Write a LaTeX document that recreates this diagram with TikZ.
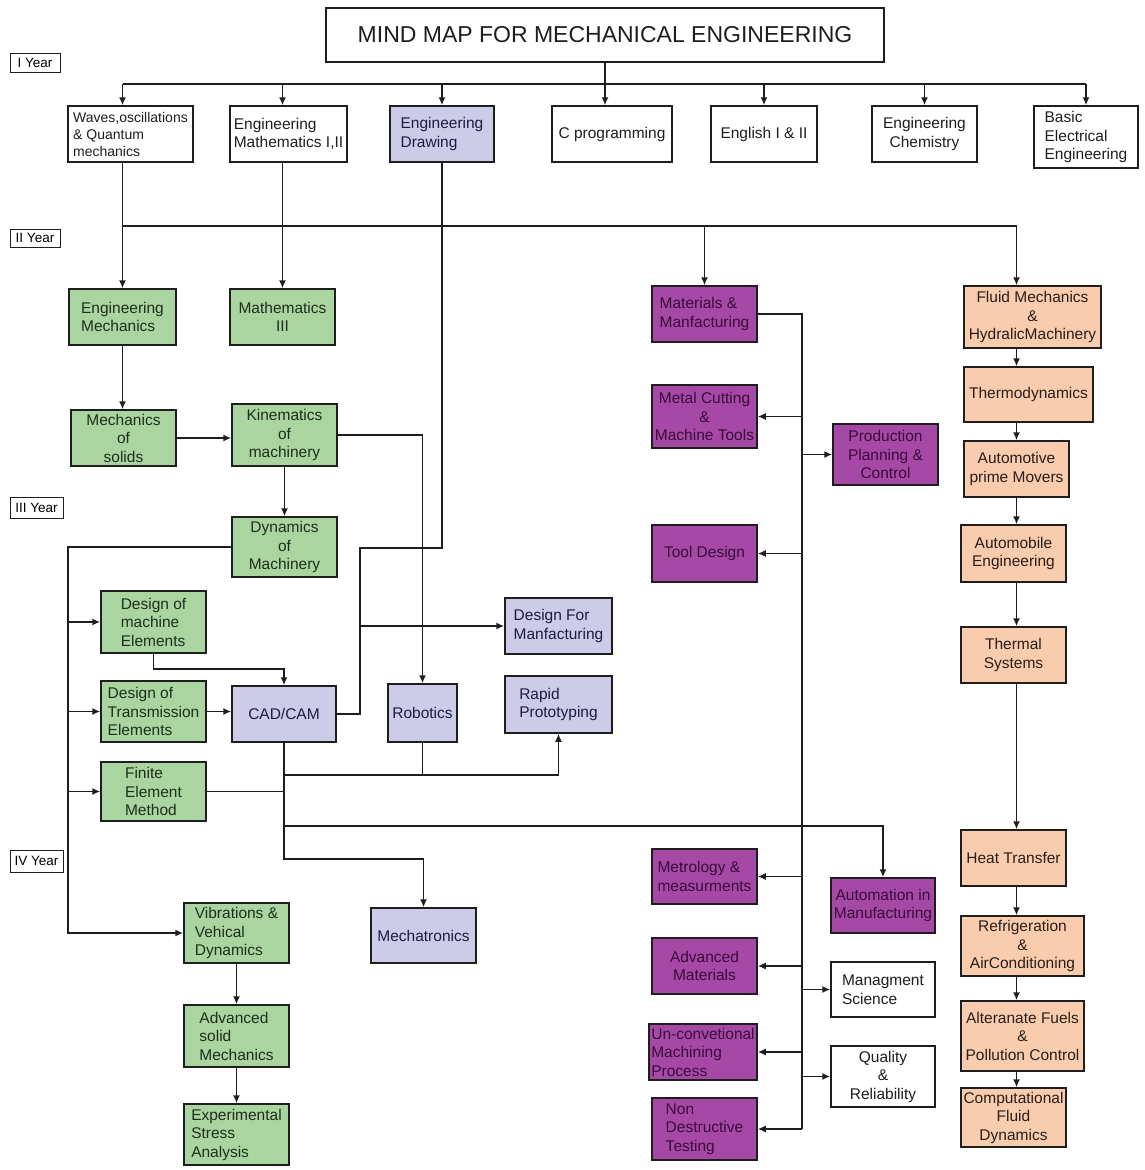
\documentclass[tikz,border=0pt]{standalone}
\usepackage{fontspec}
\setmainfont{Liberation Sans}
\usetikzlibrary{arrows.meta}
\definecolor{MMGreen}{HTML}{AAD4A0}
\definecolor{MMLav}{HTML}{CCCCE8}
\definecolor{MMPurple}{HTML}{A649A6}
\definecolor{MMPeach}{HTML}{F8CCAC}
\definecolor{MMInk}{HTML}{1E1E1E}
\definecolor{MMGreenInk}{HTML}{1C301C}
\definecolor{MMLavInk}{HTML}{1C1C44}
\definecolor{MMPurpleInk}{HTML}{3A0A3A}
\definecolor{MMPeachInk}{HTML}{2A1E1A}

\begin{document}
\begin{tikzpicture}[x=1pt,y=-1pt,
  box/.style={draw=MMInk,line width=1.5pt,inner sep=1pt,align=center,
    font=\fontsize{15.5}{18.5}\selectfont},
  wh/.style 2 args={minimum width=#1pt,minimum height=#2pt},
  plainbox/.style={box,fill=white,text=MMInk},
  greenbox/.style={box,fill=MMGreen,text=MMGreenInk},
  lavbox/.style={box,fill=MMLav,text=MMLavInk},
  purplebox/.style={box,fill=MMPurple,text=MMPurpleInk},
  peachbox/.style={box,fill=MMPeach,text=MMPeachInk},
  yearbox/.style={draw=MMInk,line width=1pt,inner sep=1pt,fill=white,
    font=\fontsize{13.5}{15}\selectfont},
  link/.style={draw=MMInk,line width=1.5pt},
  arr/.style={link,-{Latex[length=8pt,width=7pt]}}]
\useasboundingbox (0,0) rectangle (1144,1170);

% headings
\node[plainbox,wh={558}{54},font=\fontsize{23}{27}\selectfont] (title) at (605,35) {MIND MAP FOR MECHANICAL ENGINEERING};
\node[yearbox,wh={50}{19}] (yr1) at (35,62.5) {I Year};
\node[yearbox,wh={50}{18}] (yr2) at (35,238) {II Year};
\node[yearbox,wh={53}{21}] (yr3) at (36.5,507.5) {III Year};
\node[yearbox,wh={53}{22}] (yr4) at (36.5,861) {IV Year};

% first year
\node[plainbox,wh={125}{56},align=left,font=\fontsize{14}{17}\selectfont] (waves) at (130.5,134) {Waves,oscillations\\\& Quantum\\mechanics};
\node[plainbox,wh={117}{56},align=left] (engmath) at (288.5,134) {Engineering\\Mathematics I,II};
\node[lavbox,wh={104}{56},align=left] (drawing) at (442,134) {Engineering\\Drawing};
\node[plainbox,wh={120}{56}] (cprog) at (612,134) {C programming};
\node[plainbox,wh={106}{56}] (english) at (764,134) {English I \& II};
\node[plainbox,wh={105}{56}] (chem) at (924.5,134) {Engineering\\Chemistry};
\node[plainbox,wh={104}{62},align=left] (elec) at (1086,137) {Basic\\Electrical\\Engineering};

% second year
\node[greenbox,wh={107}{56},align=left] (mech) at (122.5,317) {Engineering\\Mechanics};
\node[greenbox,wh={105}{56}] (math3) at (282.5,317) {Mathematics\\III};
\node[greenbox,wh={105}{56}] (solids) at (123.5,438) {Mechanics\\of\\solids};
\node[greenbox,wh={105}{62}] (kin) at (284.5,435) {Kinematics\\of\\machinery};
\node[purplebox,wh={105}{56},align=left] (matman) at (704.5,314) {Materials \&\\Manfacturing};
\node[purplebox,wh={105}{63}] (metal) at (704.5,416.5) {Metal Cutting\\\&\\Machine Tools};
\node[purplebox,wh={105}{61}] (ppc) at (885.5,454.5) {Production\\Planning \&\\Control};
\node[purplebox,wh={105}{57}] (tool) at (704.5,553.5) {Tool Design};
\node[peachbox,wh={137}{62}] (fluid) at (1032.5,317) {Fluid Mechanics\\\&\\HydralicMachinery};
\node[peachbox,wh={129}{55}] (thermo) at (1028.5,394.5) {Thermodynamics};
\node[peachbox,wh={105}{56}] (prime) at (1016.5,469) {Automotive\\prime Movers};
\node[peachbox,wh={105}{57}] (autoeng) at (1013.5,553.5) {Automobile\\Engineering};

% third year
\node[greenbox,wh={105}{60}] (dyn) at (284.5,547) {Dynamics\\of\\Machinery};
\node[greenbox,wh={105}{62},align=left] (desm) at (153.5,622) {Design of\\machine\\Elements};
\node[greenbox,wh={105}{61},align=left] (dtrans) at (153.5,711.5) {Design of\\Transmission\\Elements};
\node[greenbox,wh={105}{59},align=left] (fem) at (153.5,791.5) {Finite\\Element\\Method};
\node[lavbox,wh={104}{56}] (cad) at (284,714) {CAD/CAM};
\node[lavbox,wh={69}{58}] (robot) at (422.5,713) {Robotics};
\node[lavbox,wh={107}{56},align=left] (dfm) at (558.5,626) {Design For\\Manfacturing};
\node[lavbox,wh={107}{57},align=left] (rp) at (558.5,704.5) {Rapid\\Prototyping};
\node[peachbox,wh={105}{56}] (thermal) at (1013.5,655) {Thermal\\Systems};

% fourth year
\node[greenbox,wh={105}{60},align=left] (vib) at (236.5,933) {Vibrations \&\\Vehical\\Dynamics};
\node[greenbox,wh={105}{62},align=left] (advsolid) at (236.5,1036) {Advanced\\solid\\Mechanics};
\node[greenbox,wh={105}{61},align=left] (exp) at (236.5,1134.5) {Experimental\\Stress\\Analysis};
\node[lavbox,wh={105}{55}] (mecha) at (423.5,935.5) {Mechatronics};
\node[purplebox,wh={105}{55},align=left] (metro) at (704.5,876.5) {Metrology \&\\measurments};
\node[purplebox,wh={104}{55}] (autom) at (883,905.5) {Automation in\\Manufacturing};
\node[purplebox,wh={105}{56}] (advmat) at (704.5,966) {Advanced\\Materials};
\node[plainbox,wh={104}{55},align=left] (mgmt) at (883,989.5) {Managment\\Science};
\node[purplebox,wh={108}{56},align=left] (unconv) at (703,1052) {Un-convetional\\Machining\\Process};
\node[plainbox,wh={104}{61}] (qual) at (883,1076.5) {Quality\\\&\\Reliability};
\node[purplebox,wh={105}{62},align=left] (ndt) at (704.5,1129) {Non\\Destructive\\Testing};
\node[peachbox,wh={105}{56}] (heat) at (1013.5,858) {Heat Transfer};
\node[peachbox,wh={123}{60}] (refrig) at (1022.5,946) {Refrigeration\\\&\\AirConditioning};
\node[peachbox,wh={123}{70}] (fuels) at (1022.5,1036) {Alteranate Fuels\\\&\\Pollution Control};
\node[peachbox,wh={105}{59}] (cfd) at (1013.5,1117.5) {Computational\\Fluid\\Dynamics};

% first year links
\coordinate (bus1) at (122.5,84);
\draw[link] (bus1) -- (elec.north |- bus1);
\draw[arr] (title.south) -- (cprog.north -| title.south);
\draw[arr] (bus1) -- (bus1 |- waves.north);
\draw[arr] (math3.north |- bus1) -- (math3.north |- engmath.north);
\foreach \n in {drawing,english,chem,elec}
  \draw[arr] (\n.north |- bus1) -- (\n.north);

% second year links
\coordinate (bus2) at (122.5,226);
\draw[link] (bus2) -- (prime.north |- bus2);
\draw[arr] (waves.south -| bus2) -- (mech.north);
\draw[arr] (engmath.south -| math3.north) -- (math3.north);
\draw[arr] (matman.north |- bus2) -- (matman.north);
\draw[arr] (prime.north |- bus2) -- (prime.north |- fluid.north);
\draw[arr] (mech.south) -- (mech.south |- solids.north);
\draw[arr] (solids.east) -- (solids.east -| kin.west);
\draw[arr] (kin.south) -- (dyn.north);
\draw[arr] (kin.east) -| (robot.north);

% green spine
\coordinate (gspine) at (68,547);
\draw[arr] (dyn.west) -- (gspine) |- (vib.west);
\foreach \n in {desm,dtrans,fem}
  \draw[arr] (\n.west -| gspine) -- (\n.west);
\draw[arr] (vib.south) -- (advsolid.north);
\draw[arr] (advsolid.south) -- (exp.north);

% drawing and cad/cam
\coordinate (dj) at (360,548);
\draw[link] (drawing.south) |- (dj) |- (cad.east);
\draw[arr] (dj |- dfm.west) -- (dfm.west);
\draw[arr] (desm.south) -- ++(0,15) -| (cad.north);
\draw[arr] (dtrans.east) -- (dtrans.east -| cad.west);
\draw[link] (fem.east) -- (fem.east -| cad.south);
\coordinate (rj) at (284,775);
\coordinate (aj) at (284,826);
\coordinate (cj) at (284,859);
\draw[arr] (cad.south) -- (cj) -| (mecha.north);
\draw[arr] (rj) -| (rp.south);
\draw[link] (robot.south) -- (robot.south |- rj);
\draw[arr] (aj) -| (autom.north);

% purple spine
\coordinate (pspine) at (802,314);
\draw[link] (matman.east) -- (pspine) -- (ndt.east -| pspine);
\foreach \n in {metal,tool,metro,advmat,unconv,ndt}
  \draw[arr] (\n.east -| pspine) -- (\n.east);
\foreach \n in {ppc,mgmt,qual}
  \draw[arr] (\n.west -| pspine) -- (\n.west);

% thermal chain
\foreach \a/\b in {fluid/thermo,thermo/prime,prime/autoeng,autoeng/thermal,thermal/heat,heat/refrig,refrig/fuels,fuels/cfd}
  \draw[arr] (\a.south -| prime) -- (\b.north -| prime);
\end{tikzpicture}
\end{document}
